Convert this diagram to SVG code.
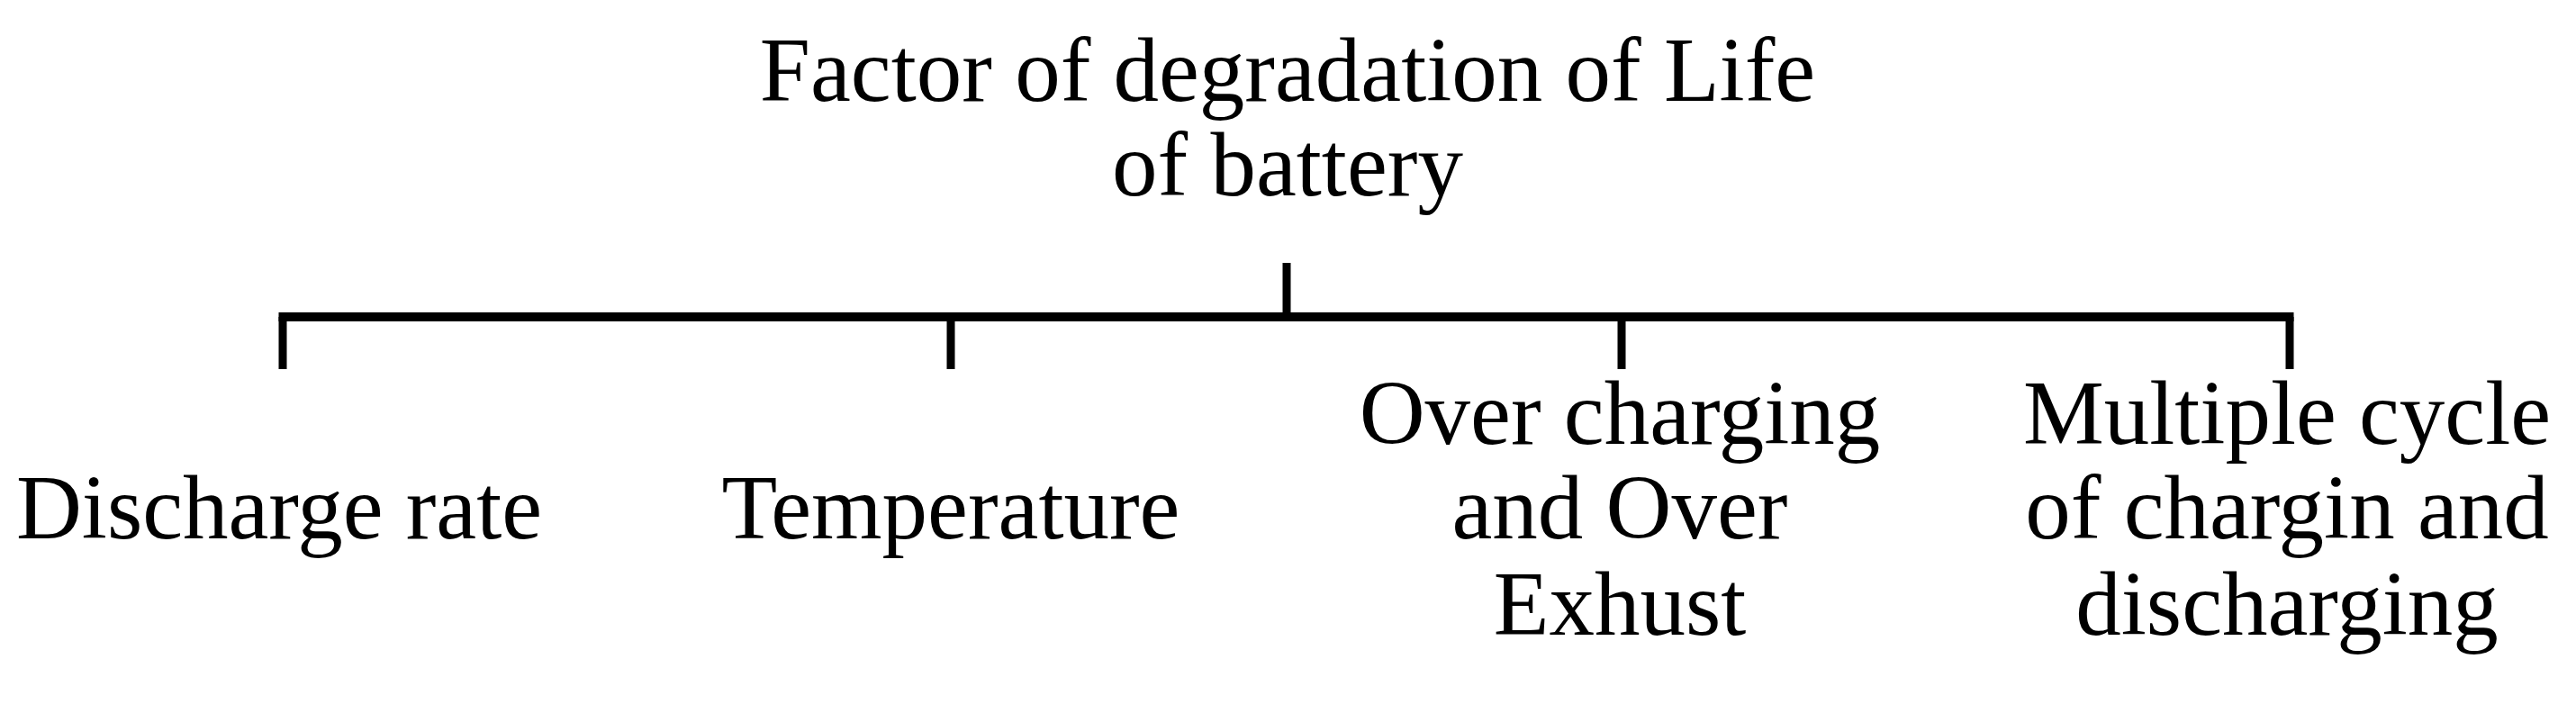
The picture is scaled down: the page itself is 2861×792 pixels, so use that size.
<svg xmlns="http://www.w3.org/2000/svg" width="2861" height="792" viewBox="0 0 2861 792">
<style>
text{font-family:"Liberation Serif","Times New Roman",serif;font-size:101px;fill:#000;text-anchor:middle}
.h{stroke:#000;stroke-width:10;fill:none}
.v{stroke:#000;stroke-width:9;fill:none}
</style>
<rect width="2861" height="792" fill="#fff"/>
<g id="root">
<text x="1430" y="112">Factor of degradation of Life</text>
<text x="1430" y="217">of battery</text>
</g>
<g id="connectors">
<line class="v" x1="1429" y1="292" x2="1429" y2="352"/>
<line class="h" x1="309.5" y1="352" x2="2547.5" y2="352"/>
<line class="v" x1="314" y1="352" x2="314" y2="410"/>
<line class="v" x1="1056" y1="352" x2="1056" y2="410"/>
<line class="v" x1="1801" y1="352" x2="1801" y2="410"/>
<line class="v" x1="2543" y1="352" x2="2543" y2="410"/>
</g>
<g id="n1"><text x="310" y="598">Discharge rate</text></g>
<g id="n2"><text x="1056" y="598">Temperature</text></g>
<g id="n3">
<text x="1799" y="493">Over charging</text>
<text x="1799" y="598">and Over</text>
<text x="1799" y="705">Exhust</text>
</g>
<g id="n4">
<text x="2540" y="493">Multiple cycle</text>
<text x="2540" y="598">of chargin and</text>
<text x="2540" y="705">discharging</text>
</g>
</svg>
